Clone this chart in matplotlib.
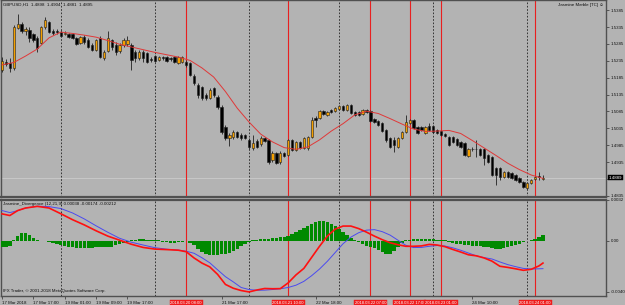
import matplotlib
matplotlib.use("Agg")
import matplotlib.pyplot as plt

# GBPUSD H1 candles
opens = [1.5208, 1.5231, 1.5229, 1.5214, 1.5332, 1.5344, 1.5323, 1.5326, 1.5314, 1.5303,
         1.5288, 1.5335, 1.5350, 1.5323, 1.5322, 1.5320, 1.5315, 1.5314, 1.5314, 1.5303,
         1.5288, 1.5306, 1.5297, 1.5282, 1.5267, 1.5303, 1.5243, 1.5264, 1.5297, 1.5282,
         1.5264, 1.5282, 1.5285, 1.5282, 1.5261, 1.5243, 1.5261, 1.5258, 1.5240, 1.5249,
         1.5237, 1.5246, 1.5246, 1.5243, 1.5246, 1.5229, 1.5231, 1.5231, 1.5229, 1.5190,
         1.5163, 1.5158, 1.5134, 1.5125, 1.5155, 1.5128, 1.5098, 1.5039, 1.5006, 1.5009,
         1.5024, 1.5015, 1.5015, 1.5001, 1.4977, 1.4998, 1.4989, 1.5006, 1.5001, 1.4941,
         1.4962, 1.4935, 1.4962, 1.4956, 1.5001, 1.4971, 1.4995, 1.4977, 1.4977, 1.5009,
         1.5066, 1.5066, 1.5086, 1.5075, 1.5089, 1.5086, 1.5092, 1.5101, 1.5089, 1.5104,
         1.5083, 1.5083, 1.5077, 1.5089, 1.5086, 1.5063, 1.5057, 1.5051, 1.5030, 1.5006,
         1.5001, 1.4980, 1.5006, 1.5024, 1.5051, 1.5060, 1.5039, 1.5039, 1.5021, 1.5042,
         1.5042, 1.5030, 1.5027, 1.5018, 1.5009, 1.5009, 1.5003, 1.4995, 1.4992, 1.4953,
         1.4974, 1.4974, 1.4974, 1.4974, 1.4956, 1.4950, 1.4918, 1.4918, 1.4891, 1.4906,
         1.4903, 1.4897, 1.4888, 1.4876, 1.4858, 1.4873, 1.4885, 1.4894, 1.4885]
highs = [1.5246, 1.5240, 1.5243, 1.5341, 1.5374, 1.5350, 1.5335, 1.5335, 1.5317, 1.5308,
         1.5338, 1.5365, 1.5353, 1.5329, 1.5329, 1.5326, 1.5323, 1.5317, 1.5317, 1.5306,
         1.5308, 1.5311, 1.5303, 1.5288, 1.5300, 1.5308, 1.5267, 1.5323, 1.5300, 1.5291,
         1.5288, 1.5303, 1.5308, 1.5288, 1.5267, 1.5267, 1.5267, 1.5261, 1.5246, 1.5252,
         1.5249, 1.5249, 1.5249, 1.5246, 1.5249, 1.5249, 1.5249, 1.5237, 1.5231, 1.5196,
         1.5169, 1.5160, 1.5140, 1.5155, 1.5158, 1.5134, 1.5104, 1.5045, 1.5021, 1.5030,
         1.5027, 1.5021, 1.5018, 1.5006, 1.5015, 1.5003, 1.5012, 1.5009, 1.5003, 1.4968,
         1.4965, 1.4968, 1.4965, 1.5003, 1.5003, 1.4998, 1.4998, 1.5009, 1.5012, 1.5069,
         1.5072, 1.5089, 1.5089, 1.5086, 1.5092, 1.5098, 1.5104, 1.5104, 1.5107, 1.5107,
         1.5086, 1.5086, 1.5092, 1.5092, 1.5089, 1.5066, 1.5060, 1.5054, 1.5033, 1.5009,
         1.5009, 1.5009, 1.5027, 1.5075, 1.5063, 1.5063, 1.5042, 1.5042, 1.5042, 1.5051,
         1.5045, 1.5033, 1.5030, 1.5021, 1.5012, 1.5012, 1.5006, 1.4998, 1.4995, 1.4977,
         1.4980, 1.5001, 1.4977, 1.4977, 1.4959, 1.4953, 1.4921, 1.4921, 1.4909, 1.4909,
         1.4906, 1.4900, 1.4891, 1.4879, 1.4876, 1.4885, 1.4894, 1.4906, 1.4897]
lows = [1.5202, 1.5220, 1.5202, 1.5208, 1.5329, 1.5317, 1.5311, 1.5291, 1.5291, 1.5261,
        1.5285, 1.5329, 1.5317, 1.5311, 1.5314, 1.5306, 1.5311, 1.5303, 1.5300, 1.5282,
        1.5285, 1.5285, 1.5273, 1.5264, 1.5264, 1.5243, 1.5237, 1.5261, 1.5267, 1.5252,
        1.5258, 1.5276, 1.5279, 1.5208, 1.5231, 1.5237, 1.5231, 1.5229, 1.5231, 1.5231,
        1.5234, 1.5237, 1.5231, 1.5234, 1.5229, 1.5226, 1.5229, 1.5217, 1.5190, 1.5163,
        1.5125, 1.5119, 1.5119, 1.5122, 1.5128, 1.5092, 1.5018, 1.5001, 1.4983, 1.5003,
        1.5006, 1.5001, 1.5003, 1.4974, 1.4971, 1.4977, 1.4983, 1.4995, 1.4929, 1.4935,
        1.4929, 1.4929, 1.4950, 1.4953, 1.4968, 1.4968, 1.4974, 1.4974, 1.4971, 1.5006,
        1.5039, 1.5063, 1.5075, 1.5072, 1.5080, 1.5083, 1.5089, 1.5086, 1.5086, 1.5077,
        1.5072, 1.5072, 1.5075, 1.5080, 1.5054, 1.5051, 1.5042, 1.5024, 1.4995, 1.4977,
        1.4965, 1.4977, 1.5003, 1.5021, 1.5048, 1.5033, 1.5018, 1.5027, 1.5018, 1.5027,
        1.5021, 1.5018, 1.5012, 1.5009, 1.4983, 1.4992, 1.4983, 1.4977, 1.4953, 1.4950,
        1.4968, 1.4950, 1.4953, 1.4927, 1.4932, 1.4894, 1.4867, 1.4882, 1.4888, 1.4888,
        1.4885, 1.4879, 1.4873, 1.4858, 1.4855, 1.4870, 1.4882, 1.4882, 1.4882]
closes = [1.5234, 1.5226, 1.5214, 1.5335, 1.5344, 1.5323, 1.5329, 1.5303, 1.5297, 1.5273,
          1.5335, 1.5356, 1.5320, 1.5317, 1.5321, 1.5308, 1.5317, 1.5306, 1.5303, 1.5285,
          1.5306, 1.5291, 1.5276, 1.5267, 1.5297, 1.5246, 1.5261, 1.5303, 1.5276, 1.5261,
          1.5282, 1.5297, 1.5297, 1.5237, 1.5243, 1.5261, 1.5243, 1.5231, 1.5237, 1.5234,
          1.5246, 1.5243, 1.5234, 1.5241, 1.5231, 1.5246, 1.5246, 1.5223, 1.5193, 1.5169,
          1.5134, 1.5125, 1.5125, 1.5149, 1.5134, 1.5098, 1.5024, 1.5006, 1.5015, 1.5024,
          1.5009, 1.5006, 1.5006, 1.4980, 1.4992, 1.4980, 1.5006, 1.4998, 1.4935, 1.4962,
          1.4932, 1.4962, 1.4953, 1.5001, 1.4971, 1.4995, 1.4977, 1.5006, 1.5009, 1.5060,
          1.5060, 1.5086, 1.5077, 1.5083, 1.5083, 1.5095, 1.5101, 1.5089, 1.5104, 1.5080,
          1.5075, 1.5075, 1.5089, 1.5083, 1.5057, 1.5054, 1.5045, 1.5027, 1.5001, 1.4980,
          1.4986, 1.5006, 1.5024, 1.5054, 1.5060, 1.5036, 1.5021, 1.5030, 1.5039, 1.5030,
          1.5024, 1.5021, 1.5015, 1.5012, 1.4986, 1.4995, 1.4986, 1.4980, 1.4956, 1.4974,
          1.4973, 1.4973, 1.4956, 1.4947, 1.4935, 1.4897, 1.4897, 1.4891, 1.4906, 1.4891,
          1.4888, 1.4882, 1.4876, 1.4861, 1.4873, 1.4882, 1.4891, 1.4891, 1.4889]

# moving average (thin red line), sampled every 3 bars
ma_idx = [0, 3, 6, 9, 12, 15, 18, 21, 24, 27, 30, 33, 36, 39, 42, 45, 48, 51, 54, 57,
          60, 63, 66, 69, 72, 75, 78, 81, 84, 87, 90, 93, 96, 99, 102, 105, 108, 111,
          114, 117, 120, 123, 126, 129, 132, 135, 138]
ma_val = [1.5223, 1.5230, 1.5249, 1.5270, 1.5303, 1.5320, 1.5316, 1.5311, 1.5305, 1.5295,
          1.5284, 1.5276, 1.5268, 1.5260, 1.5253, 1.5246, 1.5236, 1.5214, 1.5187, 1.5144,
          1.5095, 1.5054, 1.5018, 1.4995, 1.4978, 1.4973, 1.4980, 1.5001, 1.5027, 1.5049,
          1.5075, 1.5086, 1.5079, 1.5064, 1.5048, 1.5033, 1.5026, 1.5027, 1.5029, 1.5020,
          1.4999, 1.4977, 1.4955, 1.4932, 1.4913, 1.4897, 1.4887]

# Jasmine_Divergence sub window
hist = [-0.00047, -0.00047, -0.00039, 0.00008, 0.00039, 0.00059, 0.00063, 0.00047, 0.00024, 0.00008,
        -0.00004, -0.00004, -0.00008, -0.00016, -0.00024, -0.00031, -0.00043, -0.00047, -0.00051, -0.00055,
        -0.00055, -0.00055, -0.00055, -0.00055, -0.00051, -0.00051, -0.00047, -0.00047, -0.00047, -0.00031,
        -0.00024, -0.00016, -0.00008, 0.00008, 0.00008, 0.00012, 0.00012, 0.00008, 0.00008, 0.00004,
        0.00004, -0.00008, -0.00012, -0.00016, -0.00016, -0.00012, -0.00008, -0.00004, -0.00016, -0.00031,
        -0.00063, -0.00086, -0.00102, -0.00110, -0.00110, -0.00110, -0.00106, -0.00102, -0.00094, -0.00079,
        -0.00063, -0.00039, -0.00024, -0.00008, 0.00008, 0.00008, 0.00012, 0.00016, 0.00016, 0.00020,
        0.00024, 0.00028, 0.00031, 0.00039, 0.00055, 0.00071, 0.00086, 0.00102, 0.00118, 0.00134,
        0.00149, 0.00157, 0.00157, 0.00149, 0.00134, 0.00118, 0.00094, 0.00071, 0.00047, 0.00024,
        0.00008, -0.00008, -0.00024, -0.00039, -0.00047, -0.00055, -0.00071, -0.00086, -0.00102, -0.00102,
        -0.00079, -0.00047, -0.00016, 0.00004, 0.00008, 0.00012, 0.00016, 0.00016, 0.00016, 0.00012,
        0.00012, 0.00008, 0.00004, 0.00004, -0.00008, -0.00016, -0.00024, -0.00028, -0.00031, -0.00035,
        -0.00039, -0.00043, -0.00043, -0.00047, -0.00051, -0.00059, -0.00063, -0.00063, -0.00059, -0.00047,
        -0.00039, -0.00031, -0.00024, -0.00012, -0.00004, 0.00004, 0.00016, 0.00031, 0.00043]
osc_idx = [0, 2, 4, 6, 9, 12, 15, 18, 21, 24, 27, 30, 33, 36, 39, 42, 45, 47, 49, 51,
           53, 55, 57, 59, 61, 63, 65, 67, 69, 71, 73, 75, 77, 79, 81, 83, 85, 87, 89, 91,
           93, 95, 97, 99, 101, 103, 105, 107, 109, 111, 113, 115, 117, 119, 121, 123, 125,
           127, 129, 131, 133, 135, 137, 138]
osc_red = [0.00211, 0.00198, 0.00237, 0.00257, 0.00270, 0.00257, 0.00212, 0.00165, 0.00124, 0.00078,
           0.00036, 0.00004, -0.00028, -0.00053, -0.00066, -0.00070, -0.00075, -0.00087, -0.00136, -0.00176,
           -0.00206, -0.00265, -0.00344, -0.00374, -0.00392, -0.00403, -0.00388, -0.00376, -0.00378, -0.00377,
           -0.00332, -0.00269, -0.00218, -0.00131, -0.00044, 0.00036, 0.00091, 0.00115, 0.00115, 0.00095,
           0.00067, 0.00036, 0.00008, -0.00016, -0.00032, -0.00044, -0.00044, -0.00041, -0.00029, -0.00034,
           -0.00047, -0.00069, -0.00089, -0.00111, -0.00119, -0.00136, -0.00161, -0.00201, -0.00210, -0.00221,
           -0.00233, -0.00225, -0.00198, -0.00176]
osc_blue = [0.00237, 0.00221, 0.00236, 0.00257, 0.00271, 0.00268, 0.00253, 0.00218, 0.00171, 0.00117,
            0.00066, 0.00019, -0.00012, -0.00034, -0.00055, -0.00067, -0.00074, -0.00083, -0.00099, -0.00134,
            -0.00174, -0.00229, -0.00283, -0.00324, -0.00368, -0.00384, -0.00390, -0.00389, -0.00384, -0.00378,
            -0.00368, -0.00350, -0.00320, -0.00275, -0.00223, -0.00162, -0.00093, -0.00024, 0.00028, 0.00063,
            0.00083, 0.00087, 0.00071, 0.00044, 0.00004, -0.00036, -0.00054, -0.00053, -0.00044, -0.00038,
            -0.00042, -0.00056, -0.00075, -0.00097, -0.00119, -0.00133, -0.00144, -0.00167, -0.00188, -0.00204,
            -0.00218, -0.00223, -0.00221, -0.00220]

day_bars = [15, 39, 63, 86, 110, 134]
vline_bars = [47, 73, 94, 104, 112, 136]
vline_labels = ["2018.03.20 08:00", "2018.03.21 10:00", "2018.03.22 07:00",
                "2018.03.22 17:00", "2018.03.23 01:00", "2018.03.24 01:00"]
time_ticks = [0, 8, 16, 24, 32, 56, 80, 120]
time_labels = ["17 Mar 2018", "17 Mar 17:00", "19 Mar 01:00", "19 Mar 09:00", "19 Mar 17:00",
               "21 Mar 17:00", "22 Mar 18:00", "24 Mar 10:00"]
price_ticks = [1.5385, 1.5335, 1.5285, 1.5235, 1.5185, 1.5135, 1.5085, 1.5035,
               1.4985, 1.4935, 1.4885, 1.4835]
osc_ticks = [0.0032, 0.0, -0.0040]
osc_tick_labels = ["0.0032", "0.00", "-0.0040"]

BG = "#b3b3b3"
plt.rcParams["font.family"] = ["Liberation Sans", "DejaVu Sans"]

W, H = 625, 305
fig = plt.figure(figsize=(W / 100, H / 100), dpi=100, facecolor=BG)
ax = fig.add_axes([1 / W, (H - 197) / H, 605 / W, 197 / H], facecolor=BG)
sub = fig.add_axes([1 / W, (H - 296) / H, 605 / W, 96 / H], facecolor=BG, sharex=ax)

n = len(closes)
xs = list(range(n))
px_per_bar = 3.92
x0 = -1 / px_per_bar
ax.set_xlim(x0, x0 + 605 / px_per_bar)
ax.set_ylim(1.48319, 1.5415)
sub.set_ylim(-0.00435, 0.0032)

# candles
ax.vlines(xs, lows, highs, color="#202020", lw=0.6, zorder=3)
bottoms = [min(o, c) for o, c in zip(opens, closes)]
heights = [max(abs(c - o), 0.00006) for o, c in zip(opens, closes)]
cols = ["#f5a000" if c >= o else "#000000" for o, c in zip(opens, closes)]
ax.bar(xs, heights, bottom=bottoms, width=0.6, color=cols, edgecolor="#202020",
       linewidth=0.4, zorder=4)
ax.plot(ma_idx, ma_val, color="#e03838", lw=0.7, zorder=5)

# current price
ax.axhline(closes[-1], color="#d8d8d8", lw=0.4, zorder=1)

# vertical lines in both windows
for a in (ax, sub):
    for b in day_bars:
        a.axvline(b, color="#202020", lw=0.6, ls=(0, (2, 2)), zorder=2)
    for b in vline_bars:
        a.axvline(b, color="#e82020", lw=0.8, zorder=2)

# oscillator
sub.bar(xs, hist, width=0.85, color="#008a00", zorder=3)
sub.plot(osc_idx, osc_blue, color="#4a4af0", lw=0.7, zorder=4)
sub.plot(osc_idx, osc_red, color="#ff1010", lw=1.2, zorder=5)

# axes styling
for a in (ax, sub):
    for s in a.spines.values():
        s.set_color("#505050")
        s.set_linewidth(1.0)
    a.yaxis.tick_right()
    a.tick_params(axis="y", length=2, width=0.5, color="#303030", pad=1.5,
                  labelsize=3.2, labelcolor="#101010")
ax.spines["bottom"].set_linewidth(1.6)
sub.spines["top"].set_linewidth(1.6)

ax.set_yticks(price_ticks)
# the 1.4885 label sits under the current-price box
ax.set_yticklabels(["" if abs(p - closes[-1]) < 0.0006 else f"{p:.4f}" for p in price_ticks])
sub.set_yticks(osc_ticks)
sub.set_yticklabels(osc_tick_labels)
ax.tick_params(axis="x", bottom=False, labelbottom=False)
sub.set_xticks(time_ticks)
sub.set_xticklabels(time_labels, ha="left")
sub.tick_params(axis="x", length=2, width=0.5, color="#303030", pad=1.5,
                labelsize=3.2, labelcolor="#101010")

# current price box on the price scale
ax.annotate(f"{closes[-1]:.4f}", xy=(1.0, closes[-1]), xycoords=("axes fraction", "data"),
            xytext=(2, 0), textcoords="offset points", va="center", ha="left",
            fontsize=3.2, color="white",
            bbox=dict(boxstyle="square,pad=0.15", fc="black", ec="black", lw=0.3))

# labels of the vertical lines on the time scale
for b, lab in zip(vline_bars, vline_labels):
    sub.annotate(lab, xy=(b, 0), xycoords=("data", "axes fraction"),
                 xytext=(0, -5.2), textcoords="offset points", ha="center", va="center",
                 fontsize=3.0, color="white",
                 bbox=dict(boxstyle="square,pad=0.2", fc="#ee1c1c", ec="#ee1c1c", lw=0.3))

# texts
ax.text(0.004, 0.985, "GBPUSD,H1  1.4898  1.4904  1.4881  1.4895", transform=ax.transAxes,
        fontsize=3.2, va="top", ha="left", color="#101010")
ax.text(0.997, 0.985, "Jasmine Marble [TC] \u263a", transform=ax.transAxes,
        fontsize=3.2, va="top", ha="right", color="#101010")
sub.text(0.004, 0.975, "Jasmine_Divergence (12,21,9) 0.00038 -0.00174 -0.00212",
         transform=sub.transAxes, fontsize=3.2, va="top", ha="left", color="#101010")
sub.text(0.004, 0.03, "IFX Trader, \u00a9 2001-2018 MetaQuotes Software Corp.",
         transform=sub.transAxes, fontsize=3.2, va="bottom", ha="left", color="#101010")

fig.savefig("out.png", dpi=100, facecolor=BG)
